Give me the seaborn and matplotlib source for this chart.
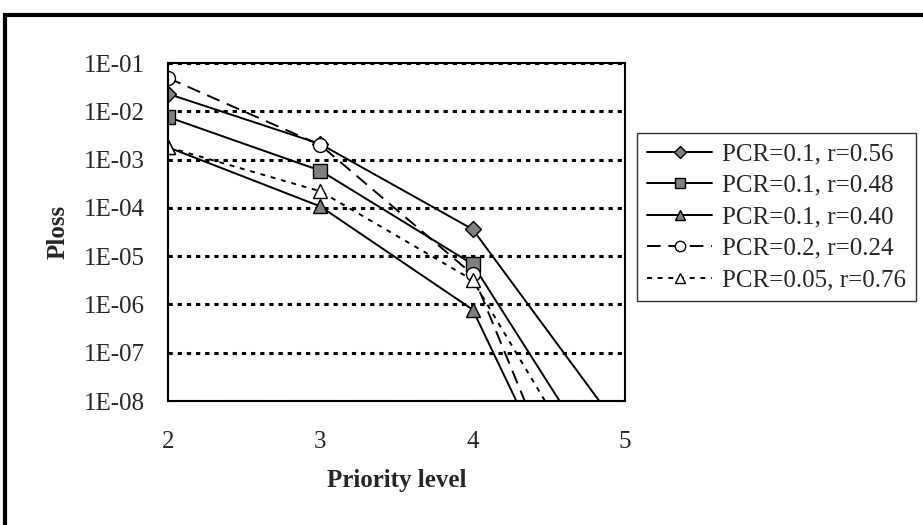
import numpy as np
import pandas as pd
import matplotlib
matplotlib.use("Agg")
import matplotlib.pyplot as plt
import matplotlib.ticker as mticker
from matplotlib.patches import Rectangle
import seaborn as sns

# data
priority = [2, 3, 4, 5]
labels = ["PCR=0.1, r=0.56", "PCR=0.1, r=0.48", "PCR=0.1, r=0.40",
          "PCR=0.2, r=0.24", "PCR=0.05, r=0.76"]
ploss_056 = [2.3e-2, 2.1e-3, 3.6e-5, 1.9e-9]
ploss_048 = [7.6e-3, 5.9e-4, 6.8e-6, 7.4e-11]
ploss_040 = [1.8e-3, 1.07e-4, 7.8e-7, 2.0e-13]
ploss_024 = [4.9e-2, 2.0e-3, 4.2e-6, 9.0e-14]
ploss_076 = [1.8e-3, 2.2e-4, 3.2e-6, 1.7e-11]
ytick_vals = [1e-1, 1e-2, 1e-3, 1e-4, 1e-5, 1e-6, 1e-7, 1e-8]
ytick_labels = ["1E-01", "1E-02", "1E-03", "1E-04", "1E-05", "1E-06", "1E-07", "1E-08"]

series = [ploss_056, ploss_048, ploss_040, ploss_024, ploss_076]
df = pd.concat([pd.DataFrame({"level": priority, "ploss": v, "case": lab})
                for lab, v in zip(labels, series)], ignore_index=True)

styles = {
    labels[0]: dict(marker="D", ms=8, mfc="#808080", ls="-"),
    labels[1]: dict(marker="s", ms=10, mfc="#808080", ls="-"),
    labels[2]: dict(marker="^", ms=10, mfc="#808080", ls="-"),
    labels[3]: dict(marker="o", ms=10, mfc="white", ls=(0, (7, 4))),
    labels[4]: dict(marker="^", ms=10, mfc="white", ls=(0, (2.5, 3))),
}

sns.set_style("white")
plt.rcParams["font.family"] = ["Liberation Serif", "DejaVu Serif"]

fig = plt.figure(figsize=(9.23, 5.25), dpi=100)
ax = fig.add_axes([168 / 923, 1 - 401 / 525, 457 / 923, 338 / 525])

for lab in labels:
    st = styles[lab]
    sns.lineplot(data=df[df["case"] == lab], x="level", y="ploss", ax=ax,
                 color="black", lw=1.4, linestyle=st["ls"], marker=st["marker"],
                 markersize=st["ms"], markerfacecolor=st["mfc"],
                 markeredgecolor="black", markeredgewidth=1.0, label=lab)

ax.set_yscale("log")
ax.set_ylim(1e-8, 1e-1)
ax.set_xlim(2, 5)
ax.set_xticks(priority)
ax.yaxis.set_major_locator(mticker.FixedLocator(ytick_vals))
ax.yaxis.set_minor_locator(mticker.NullLocator())
ax.set_yticks(ytick_vals)
ax.set_yticklabels(ytick_labels)

# dotted decade gridlines
for v in ytick_vals:
    ax.axhline(v, color="black", lw=2.2, ls=(0, (1.4, 1.6)), zorder=0.5)

for sp in ax.spines.values():
    sp.set_color("black")
    sp.set_linewidth(1.5)
    sp.set_visible(True)

ax.tick_params(axis="both", direction="inout", length=9, width=1, color="#555555",
               labelsize=18)
ax.tick_params(axis="x", pad=17)
ax.tick_params(axis="y", pad=12)
ax.set_xlabel("Priority level", fontsize=18, fontweight="bold")
ax.set_ylabel("Ploss", fontsize=18, fontweight="bold")
ax.xaxis.set_label_coords(0.5, -0.2)
ax.yaxis.set_label_coords(-0.215, 0.5)

leg = ax.legend(loc="center left", bbox_to_anchor=(637 / 923, 1 - 217 / 525),
                bbox_transform=fig.transFigure, fontsize=18, frameon=True,
                fancybox=False, edgecolor="black", handlelength=2.6,
                markerscale=0.75, labelspacing=0.36, borderpad=0.4,
                handletextpad=0.4, borderaxespad=0)
leg.get_frame().set_linewidth(1.0)

# outer chart frame
fig.patches.append(Rectangle((5 / 923, -0.1), 1.2, 0.1 + 1 - 15 / 525,
                             transform=fig.transFigure, fill=False,
                             edgecolor="black", lw=3))

fig.savefig("out.png", dpi=100)
